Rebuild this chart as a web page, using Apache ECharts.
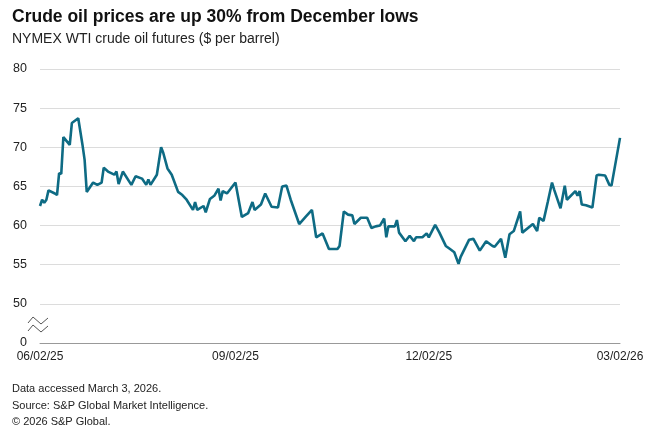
<!DOCTYPE html>
<html>
<head>
<meta charset="utf-8">
<script src="https://cdn.jsdelivr.net/npm/echarts@6/dist/echarts.min.js"></script>
<style>
  html, body { margin: 0; padding: 0; background: #fff; }
  #chart { width: 660px; height: 436px; }
</style>
</head>
<body>
<div id="chart"></div>
<script>
const titleText = 'Crude oil prices are up 30% from December lows';
const subtitleText = 'NYMEX WTI crude oil futures ($ per barrel)';
const footerLines = [
  'Data accessed March 3, 2026.',
  'Source: S&P Global Market Intelligence.',
  '\u00A9 2026 S&P Global.'
];
const xTickDates = ['2025-06-02', '2025-09-02', '2025-12-02', '2026-03-02'];
const yTicks = [45, 50, 55, 60, 65, 70, 75, 80];   // 45 is shown as "0" (broken axis)

const dates = [
  '2025-06-02','2025-06-03','2025-06-04','2025-06-05','2025-06-06','2025-06-09','2025-06-10','2025-06-11',
  '2025-06-12','2025-06-13','2025-06-16','2025-06-17','2025-06-20','2025-06-22','2025-06-23','2025-06-24',
  '2025-06-27','2025-06-29','2025-07-01','2025-07-02','2025-07-04','2025-07-07','2025-07-08','2025-07-09',
  '2025-07-11','2025-07-15','2025-07-17','2025-07-20','2025-07-22','2025-07-23','2025-07-24','2025-07-27',
  '2025-07-29','2025-07-30','2025-08-01','2025-08-03','2025-08-06','2025-08-08','2025-08-10','2025-08-13',
  '2025-08-14','2025-08-15','2025-08-18','2025-08-19','2025-08-21','2025-08-23','2025-08-25','2025-08-26',
  '2025-08-27','2025-08-29','2025-09-02','2025-09-05','2025-09-08','2025-09-10','2025-09-11','2025-09-14',
  '2025-09-16','2025-09-19','2025-09-22','2025-09-24','2025-09-26','2025-09-28','2025-10-02','2025-10-05',
  '2025-10-08','2025-10-10','2025-10-13','2025-10-16','2025-10-20','2025-10-21','2025-10-23','2025-10-25',
  '2025-10-27','2025-10-28','2025-10-31','2025-11-03','2025-11-05','2025-11-07','2025-11-09','2025-11-11',
  '2025-11-12','2025-11-13','2025-11-16','2025-11-17','2025-11-18','2025-11-21','2025-11-23','2025-11-25',
  '2025-11-26','2025-11-29','2025-12-01','2025-12-02','2025-12-05','2025-12-07','2025-12-10','2025-12-12',
  '2025-12-14','2025-12-16','2025-12-17','2025-12-21','2025-12-23','2025-12-26','2025-12-29','2026-01-01',
  '2026-01-02','2026-01-05','2026-01-07','2026-01-09','2026-01-11','2026-01-14','2026-01-15','2026-01-20',
  '2026-01-22','2026-01-23','2026-01-25','2026-01-27','2026-01-29','2026-01-30','2026-02-02','2026-02-04',
  '2026-02-05','2026-02-09','2026-02-10','2026-02-11','2026-02-12','2026-02-14','2026-02-17','2026-02-19',
  '2026-02-20','2026-02-23','2026-02-25','2026-02-26','2026-03-02'
];
const prices = [
  62.5,63.3,62.9,63.3,64.5,64.1,63.9,66.7,
  66.6,71.3,70.3,73.1,73.7,70.3,68.4,64.3,
  65.5,65.2,65.5,67.4,66.9,66.5,66.9,65.3,
  66.9,65.2,66.3,66.0,65.2,65.9,65.2,66.5,
  70.0,69.3,67.3,66.5,64.3,63.9,63.3,62.0,
  63.0,62.0,62.5,61.7,63.4,63.8,64.7,63.2,
  64.4,64.1,65.5,61.1,61.6,63.0,62.0,62.7,
  64.1,62.4,62.3,65.0,65.1,63.3,60.2,61.1,
  62.0,58.5,59.0,57.0,57.0,57.4,61.8,61.4,
  61.3,60.2,61.0,61.0,59.7,59.9,60.0,60.9,
  58.5,59.9,59.9,60.7,59.1,58.0,58.7,58.0,
  58.5,58.5,59.0,58.5,60.1,59.1,57.4,57.0,
  56.6,55.1,56.0,58.2,58.3,56.8,58.0,57.4,
  57.3,58.3,55.9,58.9,59.3,61.8,59.1,60.2,
  59.3,61.0,60.6,63.0,65.5,64.6,62.2,65.1,
  63.3,64.4,63.8,64.4,62.7,62.6,62.3,66.4,
  66.5,66.4,65.2,65.1,71.2
];

const FONT = '"Liberation Sans", Arial, sans-serif';
const chart = echarts.init(document.getElementById('chart'), null, { renderer: 'canvas' });

function ts(s) { const p = s.split('-').map(Number); return new Date(p[0], p[1] - 1, p[2]).getTime(); }
function pad(n) { return (n < 10 ? '0' : '') + n; }
function fmtDate(v) { const d = new Date(v); return pad(d.getMonth() + 1) + '/' + pad(d.getDate()) + '/' + pad(d.getFullYear() % 100); }

const seriesData = dates.map((d, i) => [ts(d), prices[i]]);

const breakSym = [
  { type: 'polyline', shape: { points: [[28, 323], [33, 317], [41, 324], [48, 318]] }, style: { stroke: '#555', lineWidth: 1, fill: null }, z: 10 },
  { type: 'polyline', shape: { points: [[28, 331], [33, 325], [41, 332], [48, 326]] }, style: { stroke: '#555', lineWidth: 1, fill: null }, z: 10 }
];

chart.setOption({
  animation: false,
  backgroundColor: '#fff',
  textStyle: { fontFamily: FONT },
  grid: { left: 40, right: 40, top: 69, bottom: 93, containLabel: false },
  graphic: [
    { type: 'text', left: 12, top: 8, style: { text: titleText, font: 'bold 17.5px ' + FONT, fill: '#111' } },
    { type: 'text', left: 12, top: 32, style: { text: subtitleText, font: '14px ' + FONT, fill: '#222' } },
    { type: 'text', left: 12, top: 381, style: { text: footerLines.join('\n'), font: '11px ' + FONT, fill: '#222', lineHeight: 16.5 } }
  ].concat(breakSym),
  xAxis: {
    type: 'value',
    min: ts(xTickDates[0]),
    max: ts(xTickDates[xTickDates.length - 1]),
    axisLine: { show: true, lineStyle: { color: '#999', width: 1 } },
    axisTick: { show: false },
    splitLine: { show: false },
    axisLabel: {
      customValues: xTickDates.map(ts),
      formatter: v => fmtDate(v),
      color: '#222', fontSize: 12, margin: 8,
      showMinLabel: true, showMaxLabel: true
    }
  },
  yAxis: {
    type: 'value',
    min: yTicks[0], max: yTicks[yTicks.length - 1], interval: 5,
    axisLine: { show: false },
    axisTick: { show: false },
    splitLine: { show: true, lineStyle: { color: '#dcdcdc', width: 1 } },
    axisLabel: {
      formatter: v => (v === 45 ? '0' : String(v)),
      color: '#222', fontSize: 12.5, margin: 13
    }
  },
  series: [{
    type: 'line',
    data: seriesData,
    showSymbol: false,
    smooth: false,
    lineStyle: { color: '#0e6b84', width: 2.6 },
    itemStyle: { color: '#0e6b84' },
    z: 5
  }]
});
</script>
</body>
</html>
